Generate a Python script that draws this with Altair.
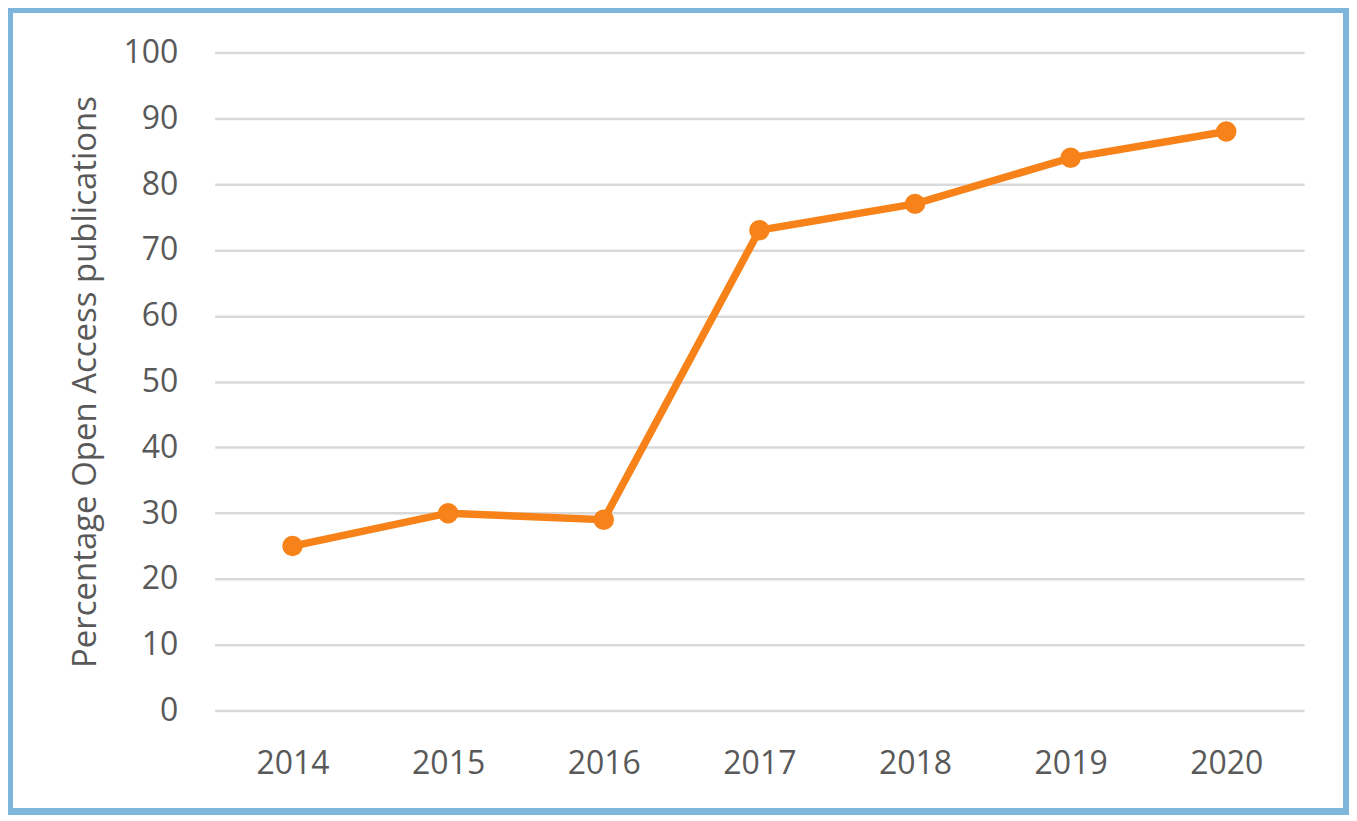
import altair as alt
import pandas as pd

years = ["2014", "2015", "2016", "2017", "2018", "2019", "2020"]
values = [25, 30, 29, 73, 77, 84, 88]

df = pd.DataFrame({"year": years, "pct": values})

ORANGE = "#F68219"
TEXT = "#595959"
FONT = "Open Sans"

x = alt.X("year:O", title=None, sort=years,
          scale=alt.Scale(paddingInner=1, paddingOuter=0.5),
          axis=alt.Axis(labelAngle=0, labelFontSize=32, labelColor=TEXT, labelFont=FONT,
                        ticks=False, tickSize=0, domain=False, grid=False, labelPadding=38))
y = alt.Y("pct:Q", title="Percentage Open Access publications",
          scale=alt.Scale(domain=[0, 100], nice=False),
          axis=alt.Axis(values=list(range(0, 101, 10)), labelFontSize=32, labelColor=TEXT,
                        labelFont=FONT, ticks=False, tickSize=0, domain=False, labelPadding=37,
                        gridColor="#D9D9D9", gridWidth=2.5, titleFontSize=33, titleColor=TEXT,
                        titleFont=FONT, titleFontWeight="normal", titlePadding=20))

line = alt.Chart(df).mark_line(color=ORANGE, strokeWidth=7.5).encode(x=x, y=y)
pts = alt.Chart(df).mark_circle(color=ORANGE, size=420, opacity=1).encode(x=x, y=y)

border = alt.Chart(df).mark_rect(fill=None, stroke="#7EB6DB", strokeWidth=6, clip=False).encode(
    x=alt.value(-205.5), x2=alt.value(1133), y=alt.value(-42.5), y2=alt.value(760))

chart = alt.layer(line, pts, border).properties(
    width=1091, height=659,
    background="white",
    autosize=alt.AutoSizeParams(type="none"),
    padding={"left": 207, "top": 44, "right": 45, "bottom": 104},
).configure_view(stroke="transparent", strokeWidth=0)

chart.save("out.html", embed_options={"renderer": "svg", "actions": False})
